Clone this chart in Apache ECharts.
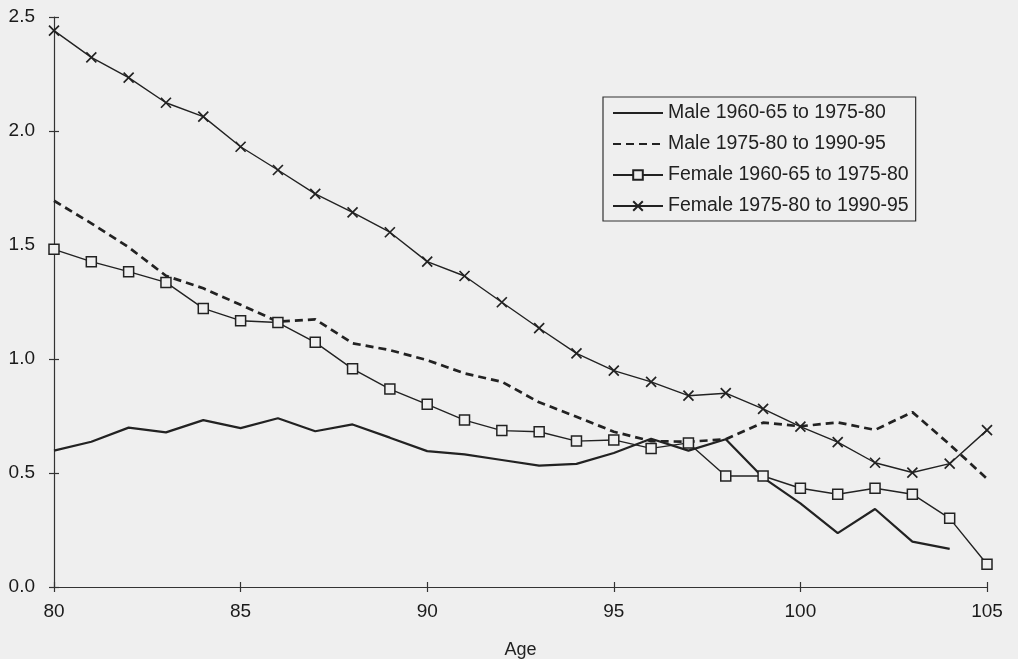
<!DOCTYPE html>
<html>
<head>
<meta charset="utf-8">
<script src="https://cdn.jsdelivr.net/npm/echarts@6/dist/echarts.min.js"></script>
<style>
html,body{margin:0;padding:0;background:#efefef;}
#c{width:1018px;height:659px;}
</style>
</head>
<body>
<div id="c"></div>
<script>
// ---- data ----
var ages = [80,81,82,83,84,85,86,87,88,89,90,91,92,93,94,95,96,97,98,99,100,101,102,103,104,105];
var maleEarly = [0.598,0.637,0.699,0.678,0.732,0.697,0.740,0.683,0.713,0.655,0.596,0.582,0.557,0.532,0.540,0.588,0.650,0.598,0.648,0.480,0.367,0.236,0.342,0.199,0.167,null];
var maleLate = [1.694,1.595,1.490,1.365,1.310,1.238,1.164,1.174,1.069,1.039,0.995,0.937,0.900,0.810,0.747,0.681,0.640,0.637,0.648,0.721,0.705,0.722,0.689,0.767,0.625,0.475];
var femaleEarly = [1.481,1.427,1.383,1.336,1.222,1.168,1.160,1.073,0.957,0.868,0.801,0.732,0.686,0.681,0.640,0.645,0.608,0.632,0.487,0.487,0.433,0.407,0.433,0.407,0.301,0.100];
var femaleLate = [2.440,2.323,2.234,2.124,2.063,1.931,1.829,1.724,1.643,1.556,1.427,1.364,1.249,1.135,1.025,0.949,0.900,0.839,0.850,0.781,0.703,0.635,0.545,0.502,0.541,0.688];
var seriesNames = ['Male 1960-65 to 1975-80','Male 1975-80 to 1990-95','Female 1960-65 to 1975-80','Female 1975-80 to 1990-95'];
var xTicks = {min:80, max:105, step:5};
var yTicks = {min:0, max:2.5, step:0.5};
var xTitle = 'Age';

function pairs(vals){ return ages.map(function(a,i){ return [a, vals[i]]; }); }

var ink = '#222222';
var bg = '#efefef';
var font = 'Liberation Sans, Arial, Helvetica, sans-serif';

var chart = echarts.init(document.getElementById('c'));
var baseX = {type:'value', min:xTicks.min, max:xTicks.max, interval:xTicks.step, position:'bottom', splitLine:{show:false}};
var baseY = {type:'value', min:yTicks.min, max:yTicks.max, interval:yTicks.step, position:'left', splitLine:{show:false}};

chart.setOption({
  backgroundColor: bg,
  animation: false,
  grid: {left:54, right:31, top:17, bottom:72, containLabel:false, outerBoundsMode:'none'},
  xAxis: [
    Object.assign({}, baseX, {
      name: xTitle, nameLocation:'middle', nameGap:54,
      nameTextStyle:{fontSize:18, color:ink, fontFamily:font},
      axisLine:{show:true, lineStyle:{color:'#333', width:1.2}},
      axisTick:{show:true, inside:false, length:5, lineStyle:{color:'#333', width:1.2}},
      axisLabel:{show:true, margin:15, fontSize:19, color:'#1a1a1a', fontFamily:font}
    }),
    Object.assign({}, baseX, {
      axisLine:{show:false},
      axisTick:{show:true, inside:true, length:5, lineStyle:{color:'#333', width:1.2}},
      axisLabel:{show:false}
    })
  ],
  yAxis: [
    Object.assign({}, baseY, {
      axisLine:{show:true, lineStyle:{color:'#333', width:1.2}},
      axisTick:{show:true, inside:false, length:5, lineStyle:{color:'#333', width:1.2}},
      axisLabel:{show:true, margin:19, fontSize:19, color:'#1a1a1a', fontFamily:font,
        formatter:function(v){ return v.toFixed(1); }}
    }),
    Object.assign({}, baseY, {
      axisLine:{show:false},
      axisTick:{show:true, inside:true, length:5, lineStyle:{color:'#333', width:1.2}},
      axisLabel:{show:false}
    })
  ],
  legend: {
    data: [
      {name:seriesNames[0], itemStyle:{opacity:0}},
      {name:seriesNames[1], itemStyle:{opacity:0}},
      {name:seriesNames[2]},
      {name:seriesNames[3]}
    ],
    orient: 'vertical',
    left: 603, top: 97,
    itemWidth: 50, itemHeight: 12, itemGap: 11,
    padding: [6,7,5,9],
    borderColor: '#333', borderWidth: 1.2,
    backgroundColor: bg,
    textStyle: {fontSize:19.5, lineHeight:20, color:ink, fontFamily:font}
  },
  series: [
    {name:seriesNames[0], type:'line', data:pairs(maleEarly), symbol:'none',
     lineStyle:{color:ink, width:2.2}, itemStyle:{color:ink}},
    {name:seriesNames[1], type:'line', data:pairs(maleLate), symbol:'none',
     lineStyle:{color:ink, width:2.7, type:[8,5]}, itemStyle:{color:ink}},
    {name:seriesNames[2], type:'line', data:pairs(femaleEarly), symbol:'rect', symbolSize:10,
     lineStyle:{color:ink, width:1.4}, itemStyle:{color:bg, borderColor:ink, borderWidth:1.5}},
    {name:seriesNames[3], type:'line', data:pairs(femaleLate), symbol:'path://M0,0L10,10M10,0L0,10', symbolSize:10,
     lineStyle:{color:ink, width:1.4}, itemStyle:{color:bg, borderColor:ink, borderWidth:1.7}}
  ]
});
</script>
</body>
</html>
